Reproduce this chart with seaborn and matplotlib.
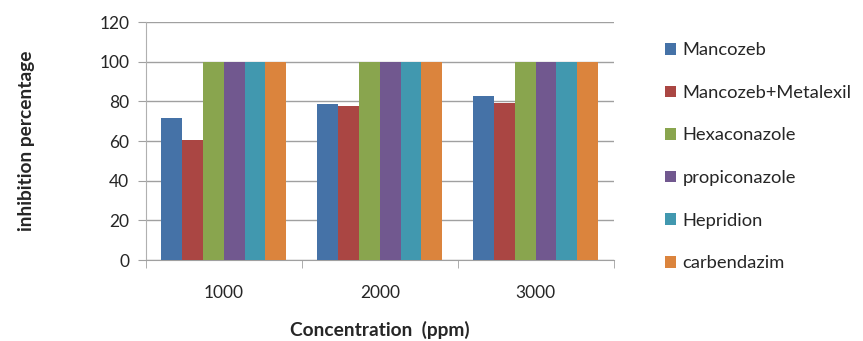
import pandas as pd
import matplotlib.pyplot as plt
import seaborn as sns

# Data
concentrations = ['1000', '2000', '3000']
fungicides = ['Mancozeb', 'Mancozeb+Metalexil', 'Hexaconazole',
              'propiconazole', 'Hepridion', 'carbendazim']
mancozeb = [71.5, 78.5, 82.8]
mancozeb_metalexil = [60.5, 77.7, 79.2]
hexaconazole = [100, 100, 100]
propiconazole = [100, 100, 100]
hepridion = [100, 100, 100]
carbendazim = [100, 100, 100]
colors = ['#4572A7', '#AA4643', '#89A54E', '#71588F', '#4198AF', '#DB843D']

series = [mancozeb, mancozeb_metalexil, hexaconazole,
          propiconazole, hepridion, carbendazim]
rows = []
for name, vals in zip(fungicides, series):
    for c, v in zip(concentrations, vals):
        rows.append({'Concentration': c, 'Fungicide': name, 'Inhibition': v})
df = pd.DataFrame(rows)

sns.set_style('white')
plt.rcParams['font.family'] = ['Lato', 'DejaVu Sans']
fs = 12.5

fig = plt.figure(figsize=(8.63, 3.41), dpi=100)
ax = fig.add_axes([0.169, 0.2375, 0.542, 0.6975])

sns.barplot(data=df, x='Concentration', y='Inhibition', hue='Fungicide',
            hue_order=fungicides, palette=colors, saturation=1, width=0.8,
            linewidth=0, ax=ax, zorder=3)

ax.set_ylim(0, 120)
ax.set_yticks(range(0, 121, 20))
ax.set_xlim(-0.5, 2.5)
ax.yaxis.grid(True, color='#a0a0a0', linewidth=1, zorder=0)
ax.set_axisbelow(True)
for s in ['top', 'right']:
    ax.spines[s].set_visible(False)
ax.spines['left'].set_color('#b0b0b0')
ax.spines['bottom'].set_color('#a0a0a0')
ax.tick_params(axis='y', length=6, color='#a0a0a0', labelsize=fs, left=True, pad=6)
ax.tick_params(axis='x', length=0, labelsize=fs, pad=18)
# category boundary ticks on x axis
ax.set_xticks([-0.5, 0.5, 1.5, 2.5], minor=True)
ax.tick_params(axis='x', which='minor', length=6, color='#a0a0a0', bottom=True)

ax.set_ylabel('inhibition percentage', fontsize=13.8, fontweight='bold')
ax.set_xlabel('Concentration  (ppm)', fontsize=13.8, fontweight='bold', labelpad=14)
ax.yaxis.set_label_coords(-0.237, 0.5)

ax.legend(loc='upper left', bbox_to_anchor=(1.075, 0.985), frameon=False,
          fontsize=13.2, labelspacing=1.45, handlelength=0.6, handleheight=0.6,
          handletextpad=0.35)

fig.savefig('out.png', dpi=100)
